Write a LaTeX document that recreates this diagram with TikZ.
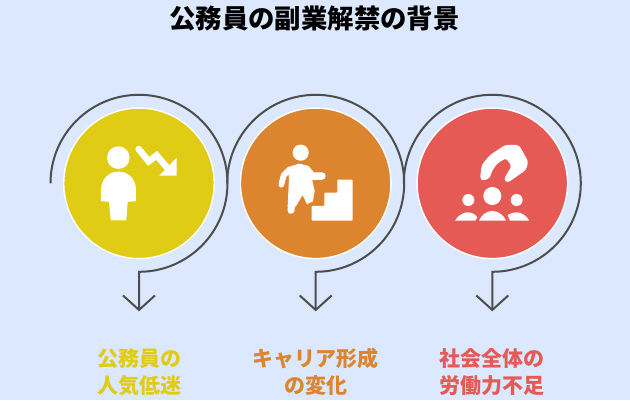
\documentclass[tikz,border=0pt]{standalone}
\usepackage{fontspec}
\newfontfamily\jpfont{Noto Sans CJK JP}
\usetikzlibrary{arrows.meta}
\definecolor{bgblue}{HTML}{DBE8FE}
\definecolor{cyellow}{HTML}{E0CC14}
\definecolor{corange}{HTML}{DD842E}
\definecolor{cred}{HTML}{E55A55}
\definecolor{linegray}{HTML}{4D4D4D}
\tikzset{
  disc/.style={circle,draw=white,line width=1.4pt,minimum size=150.5pt,inner sep=0pt},
  flow/.style={draw=linegray,line width=2pt},
  flowend/.style={flow,-{Straight Barb[length=14.5pt,width=32pt,line width=2pt]}},
  lbl/.style={font=\jpfont\bfseries\fontsize{21}{27}\selectfont,align=center,inner sep=0pt},
  ttl/.style={font=\jpfont\bfseries\fontsize{26.4}{30}\selectfont,inner sep=0pt}
}
\begin{document}
\begin{tikzpicture}[x=1pt,y=1pt]
\useasboundingbox (0,0) rectangle (630,400);
\fill[bgblue] (0,0) rectangle (630,400);
\node[ttl] (title) at (314.5,381.5) {公務員の副業解禁の背景};
\node[disc,fill=cyellow] (c1) at (139,216.7) {};
\node[disc,fill=corange] (c2) at (315.7,216.7) {};
\node[disc,fill=cred] (c3) at (492.3,216.7) {};
\coordinate (s1) at ([xshift=-88.5pt]c1.center);
\coordinate (s2) at ([xshift=-88.5pt]c2.center);
\coordinate (s3) at ([xshift=-88.5pt]c3.center);
\coordinate (e1) at ([yshift=-128pt]c1.center);
\coordinate (e2) at ([yshift=-128pt]c2.center);
\coordinate (e3) at ([yshift=-128pt]c3.center);
\draw[flowend] (s1) arc[start angle=180,end angle=-90,radius=88.5pt] -- (e1);
\draw[flowend] (s2) arc[start angle=180,end angle=-90,radius=88.5pt] -- (e2);
\draw[flowend] (s3) arc[start angle=180,end angle=-90,radius=88.5pt] -- (e3);
% icon 1
\begin{scope}[shift={(40,310)},x=0.33333pt,y=-0.33333pt]
\fill[white] (235,203) circle[radius=11.3pt];
\fill[white,rounded corners=0.6pt] (183,334) -- (183,298) .. controls (185,262) and (212,245) .. (235,245) .. controls (260,245) and (286,262) .. (288,298) -- (288,334) -- (263,335) -- (259,391) -- (212,391) -- (207,335) -- cycle;
\draw[white,line width=6.5pt,line cap=round,line join=miter] (296,177) -- (326,214) -- (350,196) -- (384,236);
\fill[white] (410,203) -- (410,257) -- (358,257) -- cycle;
\end{scope}
% icon 2
\begin{scope}[shift={(225,310)},x=0.33333pt,y=-0.33333pt]
\fill[white] (227,188) circle[radius=8.1pt];
\draw[white,line width=5.8pt,line cap=round,line join=round] (169,284) -- (176,256) -- (192,240);
\draw[white,line width=7.5pt,line cap=round] (291,258) -- (262,259) -- (246,240);
\draw[white,line width=7pt,line cap=round] (198,361) -- (206,280);
\fill[white] (187,232) -- (222,221) -- (252,228) -- (262,272) -- (269,302) -- (264,334) -- (246,343) -- (233,315) -- (212,350) -- (188,350) -- (192,262) -- cycle;
\fill[white,rounded corners=0.6pt] (260,392) -- (260,348) -- (298,348) -- (298,308) -- (337,308) -- (337,269) -- (383,269) -- (383,392) -- cycle;
\end{scope}
% icon 3
\begin{scope}[shift={(400,310)},x=0.33333pt,y=-0.33333pt]
\fill[white] (277,318) circle[radius=9pt];
\fill[white] (205,330) circle[radius=6pt];
\fill[white] (350,330) circle[radius=6pt];
\fill[white] (237,392) .. controls (245,373) and (262,363) .. (277,363) .. controls (293,363) and (310,373) .. (318,392) -- cycle;
\fill[white] (165,392) .. controls (175,375) and (190,367) .. (203,367) .. controls (215,367) and (225,372) .. (232,382) -- (226,392) -- cycle;
\fill[white] (388,392) .. controls (378,375) and (363,367) .. (350,367) .. controls (340,367) and (330,370) .. (323,375) -- (330,392) -- cycle;
\fill[white,rounded corners=3pt] (240,268) -- (245,225) -- (270,195) -- (315,165) -- (357,165) -- (385,215) -- (378,240) -- (322,279) -- (311,268) -- (335,228) -- (318,204) -- (290,222) -- (275,245) -- (270,264) -- (252,272) -- cycle;
\end{scope}
\node[lbl,text=cyellow] (t1) at (139,28) {公務員の\\人気低迷};
\node[lbl,text=corange] (t2) at (315.7,28) {キャリア形成\\の変化};
\node[lbl,text=cred] (t3) at (491.7,28) {社会全体の\\労働力不足};
\end{tikzpicture}
\end{document}
